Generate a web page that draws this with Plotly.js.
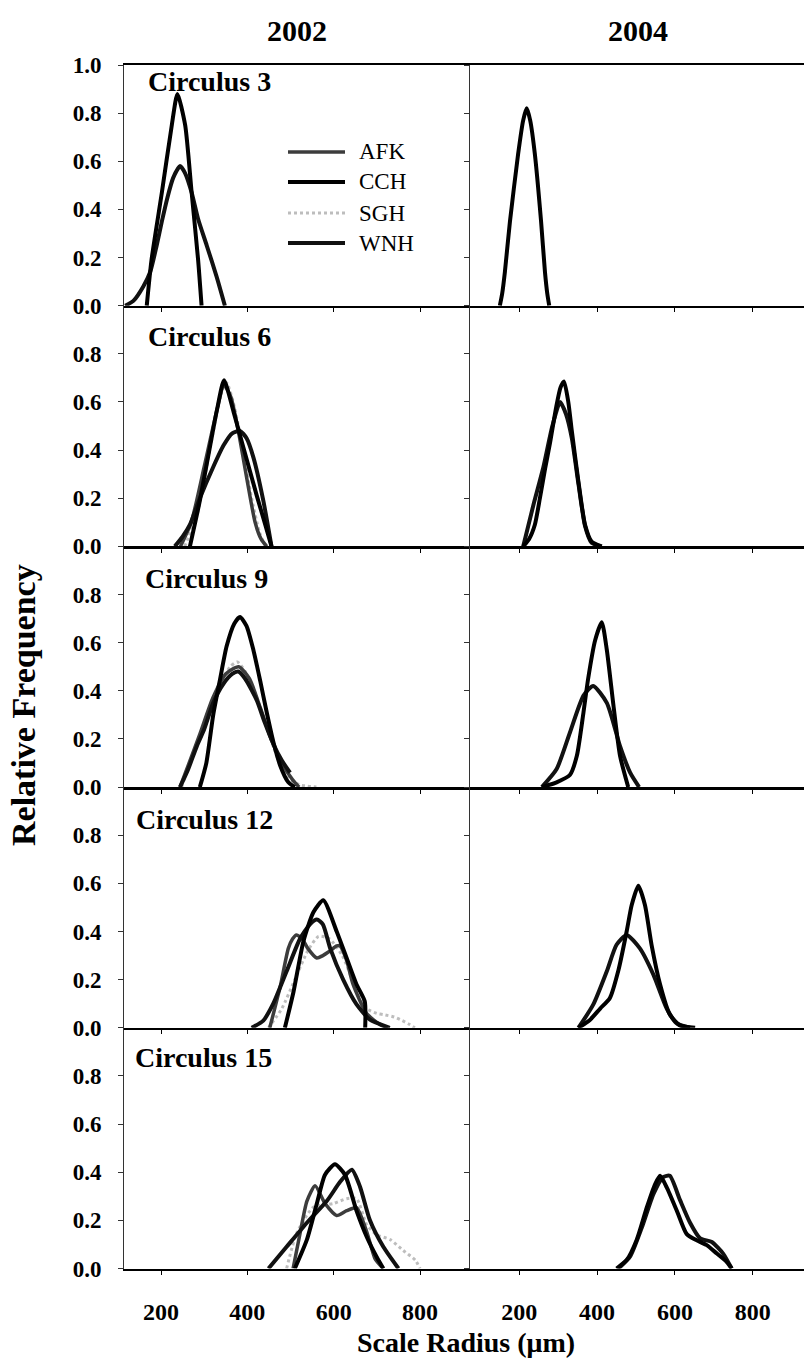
<!DOCTYPE html>
<html><head><meta charset="utf-8">
<script src="https://cdn.plot.ly/plotly-3.0.1.min.js"></script>
<style>html,body{margin:0;padding:0;background:#fff;}#chart{width:804px;height:1361px;}</style>
</head><body><div id="chart"></div>
<script>
// ---------- labels ----------
const years = ['2002', '2004'];
const circuli = ['Circulus 3', 'Circulus 6', 'Circulus 9', 'Circulus 12', 'Circulus 15'];
const seriesNames = ['AFK', 'CCH', 'SGH', 'WNH'];
const xTickVals = [200, 400, 600, 800];
const xTickText = ['200', '400', '600', '800'];
const yTickVals = [0, 0.2, 0.4, 0.6, 0.8, 1.0];
const yTickText = ['0.0', '0.2', '0.4', '0.6', '0.8', '1.0'];
const xTitle = 'Scale Radius (\u03bcm)';
const yTitle = 'Relative Frequency';

// ---------- data (scale radius in um, relative frequency) ----------
// Circulus 3, 2002
const c3_02_CCH_x = [167,178,202,225,238,256,271,286,294];
const c3_02_CCH_y = [0,0.19,0.47,0.75,0.88,0.75,0.47,0.19,0];
const c3_02_WNH_x = [117,136,159,175,190,202,215,228,244,256,271,286,306,329,348];
const c3_02_WNH_y = [0,0.02,0.08,0.14,0.25,0.35,0.45,0.53,0.58,0.55,0.47,0.36,0.25,0.12,0];
// Circulus 3, 2004
const c3_04_CCH_x = [150,156,163,176,197,210,219,228,240,256,266,272,277];
const c3_04_CCH_y = [0,0.05,0.14,0.35,0.63,0.77,0.82,0.77,0.63,0.35,0.14,0.05,0];
// Circulus 6, 2002
const c6_02_AFK_x = [245,270,300,330,346,362,380,400,418,432,445];
const c6_02_AFK_y = [0,0.1,0.33,0.57,0.67,0.62,0.47,0.27,0.1,0.03,0];
const c6_02_CCH_x = [267,290,314,330,346,368,391,422,440,456];
const c6_02_CCH_y = [0,0.19,0.42,0.57,0.69,0.56,0.41,0.21,0.1,0];
const c6_02_SGH_x = [255,285,315,340,352,370,390,410,428,442];
const c6_02_SGH_y = [0,0.14,0.42,0.64,0.68,0.58,0.4,0.2,0.06,0];
const c6_02_WNH_x = [232,250,267,290,321,345,365,383,398,414,437,456];
const c6_02_WNH_y = [0,0.04,0.09,0.2,0.33,0.42,0.47,0.48,0.45,0.37,0.19,0];
// Circulus 6, 2004
const c6_04_CCH_x = [210,225,240,253,266,279,295,306,315,326,335,352,369,386,412];
const c6_04_CCH_y = [0,0.03,0.09,0.2,0.32,0.43,0.58,0.66,0.685,0.6,0.48,0.27,0.09,0.02,0];
const c6_04_WNH_x = [210,236,262,285,305,320,335,352,369,386,410];
const c6_04_WNH_y = [0,0.17,0.33,0.5,0.6,0.55,0.45,0.26,0.085,0.015,0];
// Circulus 9, 2002
const c9_02_AFK_x = [244,265,290,320,350,380,405,430,455,480,505,520];
const c9_02_AFK_y = [0,0.1,0.22,0.37,0.47,0.5,0.45,0.33,0.2,0.1,0.03,0];
const c9_02_CCH_x = [290,305,321,337,352,370,383,398,414,430,445,460,476,495,510];
const c9_02_CCH_y = [0,0.1,0.3,0.45,0.585,0.68,0.707,0.67,0.57,0.44,0.31,0.19,0.09,0.02,0];
const c9_02_SGH_x = [248,270,300,330,360,377,395,420,445,470,495,520,560];
const c9_02_SGH_y = [0,0.12,0.26,0.4,0.5,0.52,0.48,0.38,0.25,0.12,0.04,0.01,0];
const c9_02_WNH_x = [244,262,283,300,321,345,365,379,395,422,440,460,480,499];
const c9_02_WNH_y = [0,0.07,0.17,0.24,0.35,0.43,0.47,0.48,0.45,0.36,0.27,0.18,0.11,0.06];
// Circulus 9, 2004
const c9_04_CCH_x = [258,296,330,348,365,377,395,412,425,442,459,480];
const c9_04_CCH_y = [0,0.02,0.05,0.13,0.31,0.45,0.61,0.685,0.57,0.34,0.13,0];
const c9_04_WNH_x = [258,296,330,365,390,425,459,485,508];
const c9_04_WNH_y = [0,0.075,0.226,0.38,0.42,0.35,0.17,0.06,0];
// Circulus 12, 2002
const c12_02_AFK_x = [452,476,495,505,514,527,540,561,575,592,607,615,630,645,676,707,725];
const c12_02_AFK_y = [0,0.17,0.33,0.37,0.386,0.37,0.33,0.29,0.3,0.32,0.34,0.34,0.28,0.18,0.06,0.014,0];
const c12_02_CCH_x = [487,507,530,553,576,607,630,653,672,673];
const c12_02_CCH_y = [0,0.15,0.36,0.48,0.53,0.4,0.29,0.18,0.11,0];
const c12_02_SGH_x = [449,480,510,540,565,590,620,650,676,700,715,740,754,775,788];
const c12_02_SGH_y = [0,0.08,0.2,0.32,0.38,0.37,0.3,0.17,0.08,0.06,0.055,0.045,0.034,0.015,0];
const c12_02_WNH_x = [410,437,460,491,522,545,561,575,592,622,653,684,730];
const c12_02_WNH_y = [0,0.03,0.1,0.235,0.37,0.43,0.45,0.43,0.33,0.2,0.097,0.034,0];
// Circulus 12, 2004
const c12_04_CCH_x = [352,380,408,433,455,476,489,506,523,540,562,587,613,652];
const c12_04_CCH_y = [0,0.03,0.08,0.124,0.24,0.4,0.51,0.59,0.51,0.345,0.18,0.055,0.01,0];
const c12_04_WNH_x = [352,390,425,450,476,510,545,579,605,639];
const c12_04_WNH_y = [0,0.096,0.235,0.345,0.386,0.33,0.22,0.08,0.018,0];
// Circulus 15, 2002
const c15_02_AFK_x = [506,522,538,557,580,607,630,653,677,696,715];
const c15_02_AFK_y = [0,0.145,0.28,0.344,0.27,0.22,0.24,0.253,0.15,0.04,0];
const c15_02_CCH_x = [510,538,561,580,603,626,653,677,700,715];
const c15_02_CCH_y = [0,0.12,0.27,0.39,0.433,0.39,0.24,0.13,0.047,0];
const c15_02_SGH_x = [491,514,553,599,630,653,677,700,731,761,789,800];
const c15_02_SGH_y = [0,0.145,0.255,0.27,0.29,0.29,0.18,0.14,0.12,0.075,0.035,0];
const c15_02_WNH_x = [449,491,538,584,615,642,661,684,715,750];
const c15_02_WNH_y = [0,0.09,0.19,0.28,0.36,0.41,0.34,0.2,0.09,0];
// Circulus 15, 2004
const c15_04_CCH_x = [450,476,502,528,549,562,579,605,630,656,682,708,733,746];
const c15_04_CCH_y = [0,0.035,0.12,0.255,0.35,0.385,0.337,0.24,0.144,0.117,0.097,0.062,0.028,0];
const c15_04_WNH_x = [455,485,515,545,570,587,613,639,665,695,724,746];
const c15_04_WNH_y = [0,0.05,0.17,0.31,0.38,0.385,0.285,0.19,0.125,0.11,0.062,0];

// ---------- panel table ----------
const panels = [
  [ {CCH:[c3_02_CCH_x,c3_02_CCH_y], WNH:[c3_02_WNH_x,c3_02_WNH_y]},
    {CCH:[c3_04_CCH_x,c3_04_CCH_y]} ],
  [ {AFK:[c6_02_AFK_x,c6_02_AFK_y], CCH:[c6_02_CCH_x,c6_02_CCH_y], SGH:[c6_02_SGH_x,c6_02_SGH_y], WNH:[c6_02_WNH_x,c6_02_WNH_y]},
    {CCH:[c6_04_CCH_x,c6_04_CCH_y], WNH:[c6_04_WNH_x,c6_04_WNH_y]} ],
  [ {AFK:[c9_02_AFK_x,c9_02_AFK_y], CCH:[c9_02_CCH_x,c9_02_CCH_y], SGH:[c9_02_SGH_x,c9_02_SGH_y], WNH:[c9_02_WNH_x,c9_02_WNH_y]},
    {CCH:[c9_04_CCH_x,c9_04_CCH_y], WNH:[c9_04_WNH_x,c9_04_WNH_y]} ],
  [ {AFK:[c12_02_AFK_x,c12_02_AFK_y], CCH:[c12_02_CCH_x,c12_02_CCH_y], SGH:[c12_02_SGH_x,c12_02_SGH_y], WNH:[c12_02_WNH_x,c12_02_WNH_y]},
    {CCH:[c12_04_CCH_x,c12_04_CCH_y], WNH:[c12_04_WNH_x,c12_04_WNH_y]} ],
  [ {AFK:[c15_02_AFK_x,c15_02_AFK_y], CCH:[c15_02_CCH_x,c15_02_CCH_y], SGH:[c15_02_SGH_x,c15_02_SGH_y], WNH:[c15_02_WNH_x,c15_02_WNH_y]},
    {CCH:[c15_04_CCH_x,c15_04_CCH_y], WNH:[c15_04_WNH_x,c15_04_WNH_y]} ]
];

// ---------- styling ----------
const W = 804, H = 1361;
const style = {
  AFK: {color:'#3c3c3c', width:3.5, dash:'solid'},
  CCH: {color:'#000000', width:4, dash:'solid'},
  SGH: {color:'#bdbdbd', width:3, dash:'dot'},
  WNH: {color:'#111111', width:4, dash:'solid'}
};
const drawOrder = ['SGH','AFK','WNH','CCH'];
const serif = 'Liberation Serif, Times New Roman, serif';
const px = v => v / W;
const py = v => 1 - v / H;

const colPx = [[124, 470], [470, 804]];
const xRanges = [[114.3, 915.8], [73.3, 931.9]];
const topPx = 65, panelH = 240.7;

const traces = [];
const layout = {
  width: W, height: H, margin: {l:0, r:0, t:0, b:0},
  paper_bgcolor: '#fff', plot_bgcolor: 'rgba(0,0,0,0)',
  showlegend: false, annotations: [], shapes: []
};

for (let r = 0; r < 5; r++) {
  for (let c = 0; c < 2; c++) {
    const i = r * 2 + c + 1;
    const xa = 'xaxis' + (i === 1 ? '' : i), ya = 'yaxis' + (i === 1 ? '' : i);
    const xr = 'x' + (i === 1 ? '' : i), yr = 'y' + (i === 1 ? '' : i);
    const t = topPx + panelH * r, b = t + panelH;
    layout[xa] = {
      domain: [px(colPx[c][0]), px(colPx[c][1])], anchor: yr, range: xRanges[c],
      showline: true, linecolor: '#000', linewidth: 2.5, mirror: r === 0,
      ticks: 'outside', ticklen: 4, tickwidth: 1, tickcolor: '#000',
      tickvals: xTickVals, ticktext: xTickText, showticklabels: r === 4,
      tickfont: {family: serif, size: 24, color: '#000', weight: 'bold'},
      ticklabelstandoff: 16, showgrid: false, zeroline: false, fixedrange: true
    };
    const nt = r === 0 ? 6 : 5;
    layout[ya] = {
      domain: [py(b), py(t)], anchor: xr, range: [0, 1],
      showline: true, linecolor: '#333', linewidth: 1,
      ticks: 'outside', ticklen: 5, tickwidth: 1, tickcolor: '#333',
      tickvals: yTickVals.slice(0, nt), ticktext: yTickText.slice(0, nt),
      showticklabels: c === 0,
      tickfont: {family: serif, size: 23, color: '#000', weight: 'bold'},
      ticklabelstandoff: 12, showgrid: false, zeroline: false, fixedrange: true
    };
    const set = panels[r][c];
    drawOrder.forEach(name => {
      const d = set[name];
      if (!d) return;
      traces.push({
        type: 'scatter', mode: 'lines', name: name, x: d[0], y: d[1],
        xaxis: xr, yaxis: yr, cliponaxis: false, hoverinfo: 'skip',
        line: {color: style[name].color, width: style[name].width, dash: style[name].dash,
               shape: 'spline', smoothing: 0.6}
      });
    });
  }
  // circulus label
  const cy = [82, 336, 578, 820, 1057][r];
  const cx = [146, 146, 143, 134, 133][r];
  layout.annotations.push({
    text: circuli[r], xref: 'paper', yref: 'paper', x: px(cx), y: py(cy),
    xanchor: 'left', yanchor: 'middle', showarrow: false,
    font: {family: serif, size: 28, color: '#000', weight: 'bold'}
  });
}

// column titles
[297, 638].forEach((x, k) => layout.annotations.push({
  text: years[k], xref: 'paper', yref: 'paper', x: px(x), y: py(31),
  xanchor: 'center', yanchor: 'middle', showarrow: false,
  font: {family: serif, size: 30, color: '#000', weight: 'bold'}
}));
// axis titles
layout.annotations.push({
  text: xTitle, xref: 'paper', yref: 'paper', x: px(466), y: py(1342),
  xanchor: 'center', yanchor: 'middle', showarrow: false,
  font: {family: serif, size: 28, color: '#000', weight: 'bold'}
});
layout.annotations.push({
  text: yTitle, xref: 'paper', yref: 'paper', x: px(24), y: py(705),
  xanchor: 'center', yanchor: 'middle', showarrow: false, textangle: -90,
  font: {family: serif, size: 34, color: '#000', weight: 'bold'}
});

// legend (inside top-left panel)
const legRows = [152, 182, 213, 243];
seriesNames.forEach((name, k) => {
  layout.shapes.push({
    type: 'line', xref: 'paper', yref: 'paper',
    x0: px(288), x1: px(345), y0: py(legRows[k]), y1: py(legRows[k]),
    line: {color: style[name].color, width: style[name].width, dash: style[name].dash}
  });
  layout.annotations.push({
    text: name, xref: 'paper', yref: 'paper', x: px(357), y: py(legRows[k]),
    xanchor: 'left', yanchor: 'middle', showarrow: false,
    font: {family: serif, size: 23, color: '#000'}
  });
});

Plotly.newPlot('chart', traces, layout, {staticPlot: true, displayModeBar: false});
</script></body></html>
